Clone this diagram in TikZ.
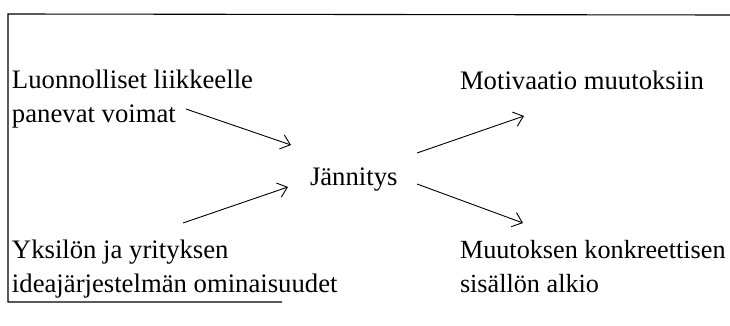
\documentclass[tikz,border=0pt]{standalone}
\usepackage{fontspec}
\setmainfont{Liberation Serif}
\usetikzlibrary{arrows.meta}
\begin{document}
\begin{tikzpicture}[x=1pt,y=-1pt,
  lbl/.style={inner sep=0pt,outer sep=0pt,anchor=base west,align=left,
    font=\fontsize{26.7}{33.5}\selectfont},
  conn/.style={line width=0.9pt,-{Straight Barb[length=9pt,width=15pt,line width=0.9pt]}},
  frame/.style={line width=1.1pt}]
\useasboundingbox (0,0) rectangle (730,326);
\draw[frame] (282,302) -- (8,302) -- (8,14) -- (730,15);
% base anchor of a two-line node lies on its last line
\node[lbl] (luon) at (12,122) {Luonnolliset liikkeelle\\panevat voimat};
\node[lbl] (yks) at (12,292) {Yksilön ja yrityksen\\ideajärjestelmän ominaisuudet};
\node[lbl] (jan) at (310,185) {Jännitys};
\node[lbl] (mot) at (460,90) {Motivaatio muutoksiin};
\node[lbl,font=\fontsize{26.2}{33.5}\selectfont] (muu) at (460,292) {Muutoksen konkreettisen\\sisällön alkio};
\coordinate (a1s) at (186,109);
\coordinate (a1e) at (291,145);
\coordinate (a2s) at (183,223);
\coordinate (a2e) at (288,187);
\coordinate (a3s) at (417,153);
\coordinate (a3e) at (524,116);
\coordinate (a4s) at (417,184);
\coordinate (a4e) at (523,223);
\draw[conn] (a1s) -- (a1e);
\draw[conn] (a2s) -- (a2e);
\draw[conn] (a3s) -- (a3e);
\draw[conn] (a4s) -- (a4e);
\end{tikzpicture}
\end{document}
